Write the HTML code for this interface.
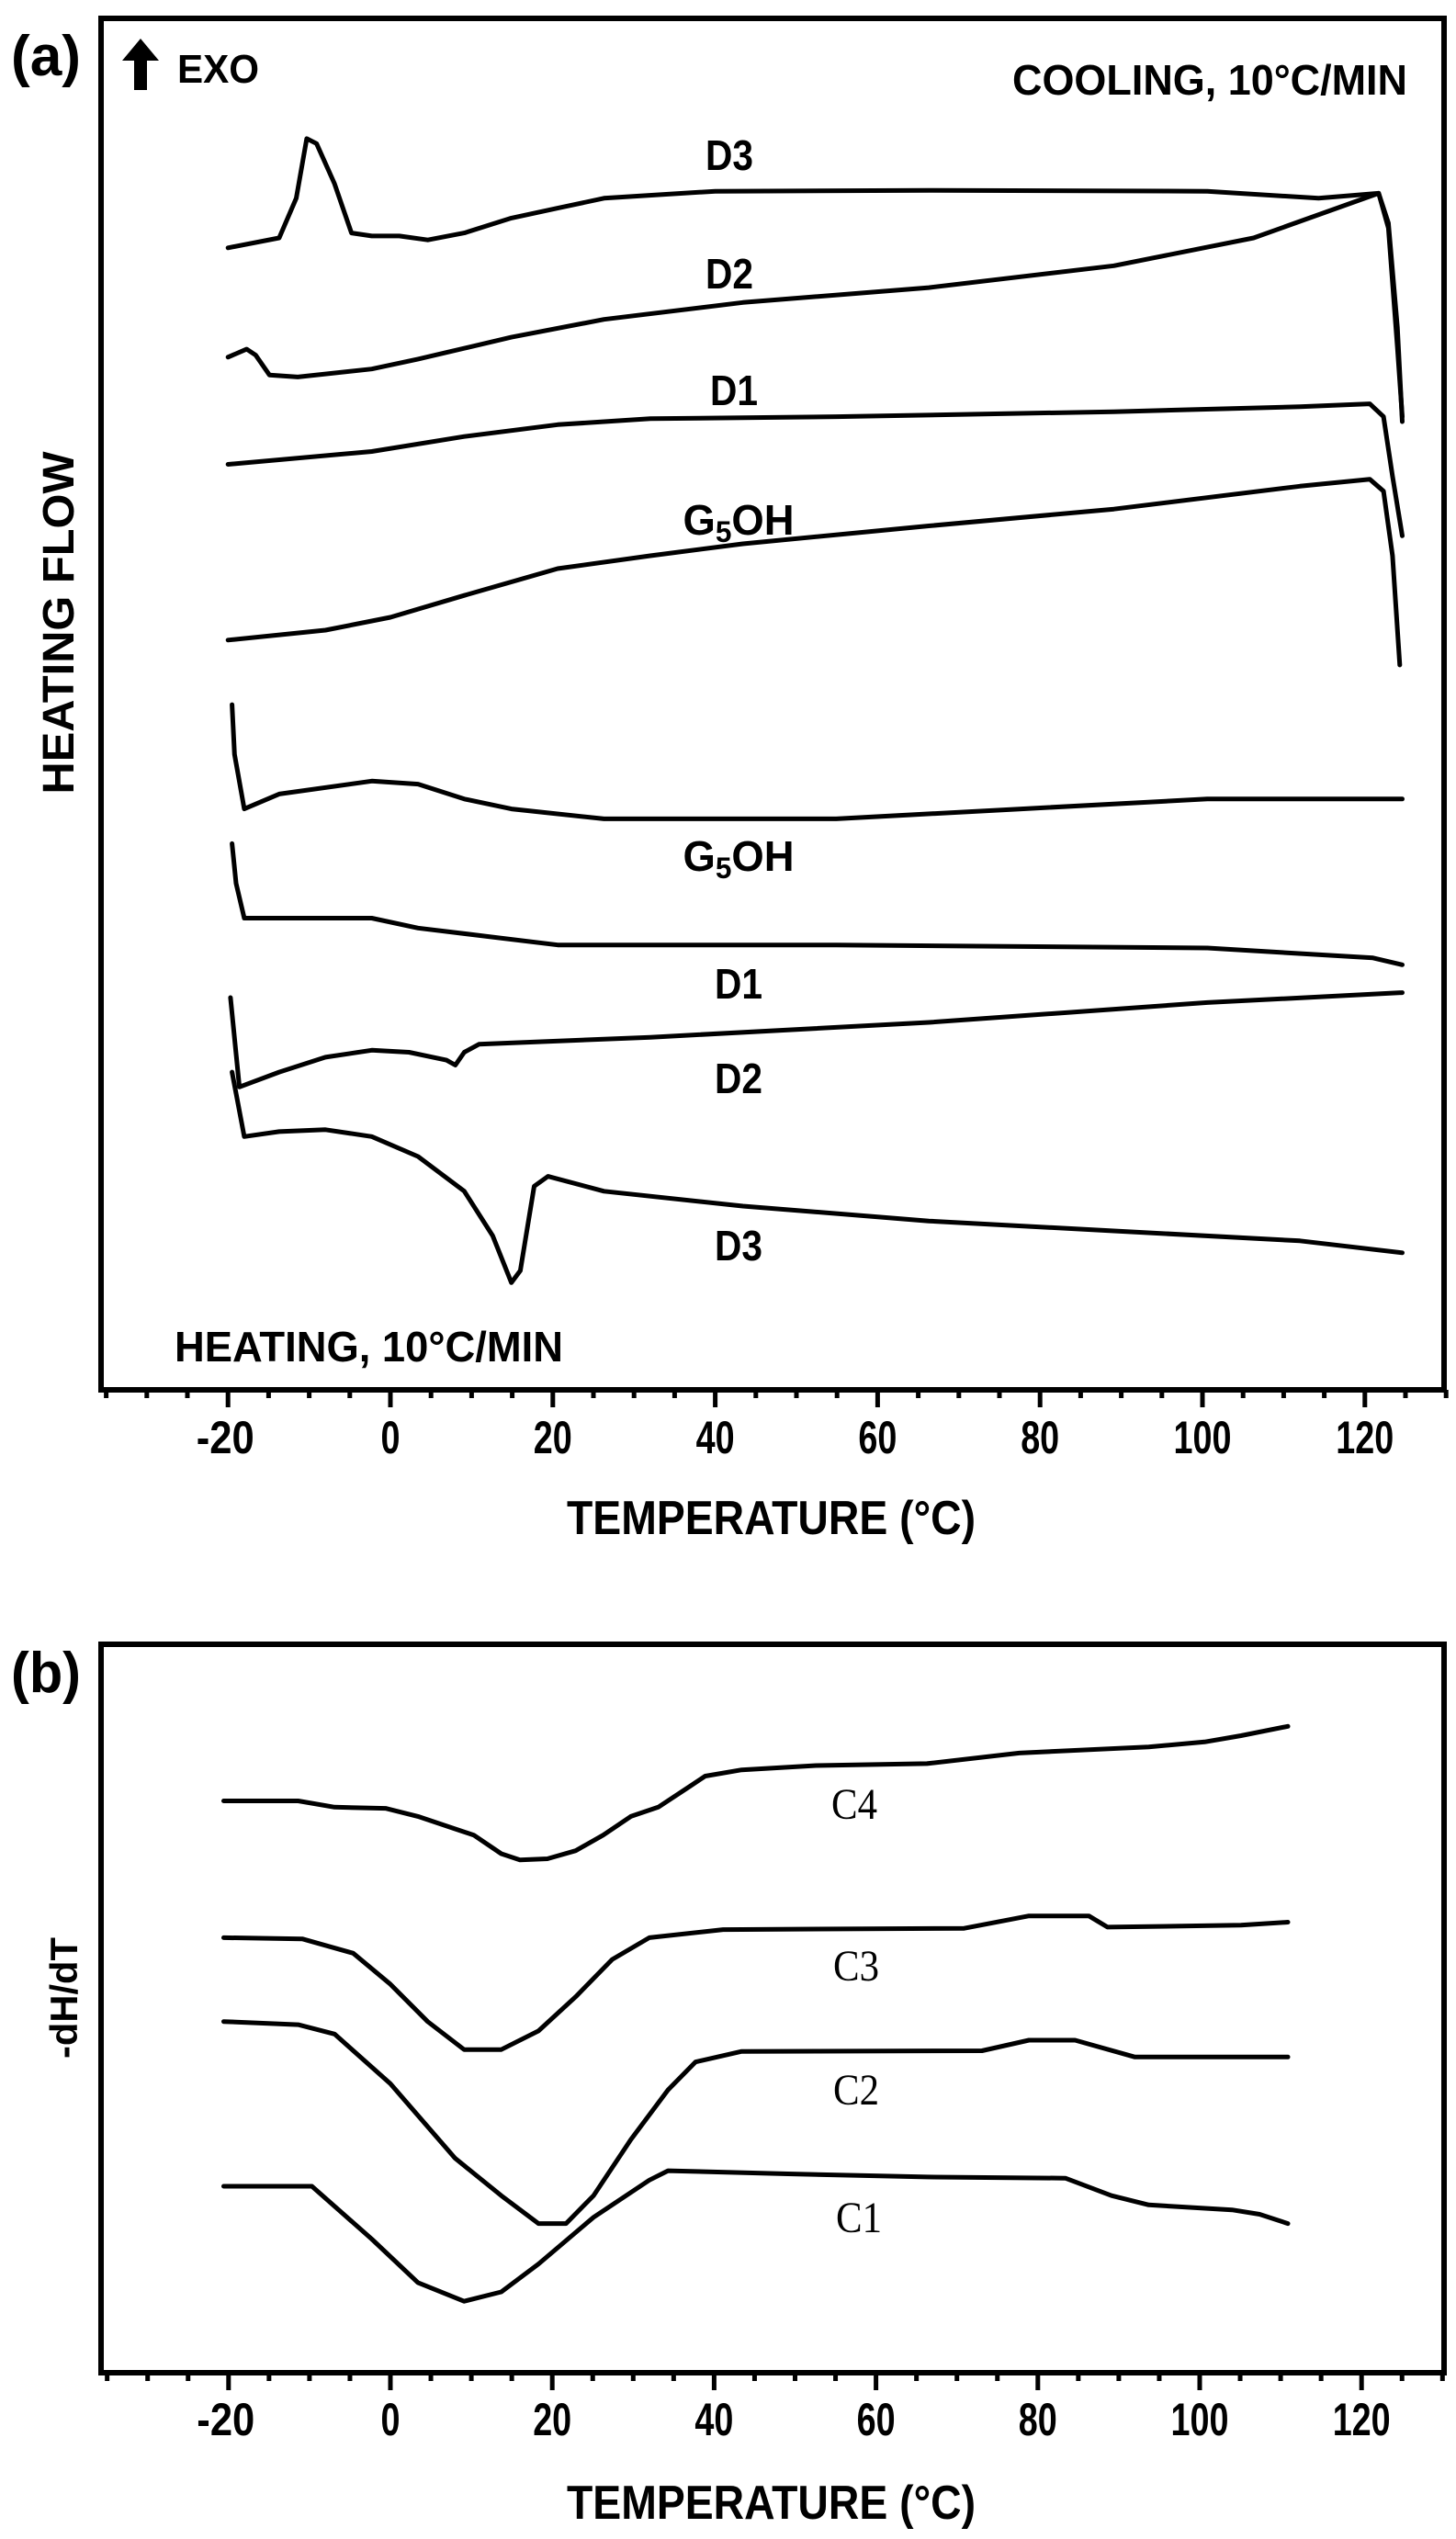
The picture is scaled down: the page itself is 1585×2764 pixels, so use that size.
<!DOCTYPE html>
<html><head><meta charset="utf-8"><style>
html,body{margin:0;padding:0;background:#fff}
svg{display:block}
text{font-family:"Liberation Sans",sans-serif;font-weight:bold;fill:#000}
.serif{font-family:"Liberation Serif",serif;font-weight:normal}
</style></head><body>
<svg id="fig" width="1585" height="2764" viewBox="0 0 1585 2764">
<rect width="1585" height="2764" fill="#fff"/>
<g id="pa"></g>
<g id="pb"></g>
</svg>
<script>
// ---- Panel (a) data: temperature (°C) and heat flow (arb. units) ----
const coolD3T = [-20,-13.7,-11.6,-10.3,-9.1,-6.9,-4.8,-2.3,1.1,4.6,9.1,14.9,20.6,26.3,40,66.3,100.6,114.3,121.7,122.9,124,124.6];
const coolD3V = [115,116,120,126,125.5,121.5,116.5,116.2,116.2,115.8,116.5,118,119,120,120.7,120.8,120.7,120,120.5,117,105,98];
const coolD2T = [-20,-17.7,-16.6,-14.9,-11.4,-2.3,3.4,14.9,26.3,43.4,66.3,89.1,106.3,121.7,122.9,124,124.6];
const coolD2V = [104,104.8,104.2,102.2,102,102.8,103.8,106,107.8,109.5,111,113.2,116,120.5,117.5,107,97.5];
const coolD1T = [-20,-2.3,9.1,20.6,32,54.9,89.1,112,120.6,122.3,123.4,124.6];
const coolD1V = [93.2,94.5,96,97.2,97.8,98,98.5,99,99.3,98,92,86];
const coolGT = [-20,-8,0,9.1,20.6,32,43.4,66.3,89.1,112,120.6,122.3,123.4,124.3];
const coolGV = [75.5,76.5,77.8,80,82.7,84,85.2,87,88.7,91,91.7,90.5,84,73];
const heatGT = [-19.5,-19.2,-18,-13.7,-2.3,3.4,9.1,14.9,26.3,54.9,77.7,100.6,124.6];
const heatGV = [69,64,58.5,60,61.3,61,59.5,58.5,57.5,57.5,58.5,59.5,59.5];
const heatD1T = [-19.5,-19,-18,-2.3,3.4,20.6,54.9,100.6,121,124.6];
const heatD1V = [55,51,47.5,47.5,46.5,44.8,44.8,44.5,43.5,42.8];
const heatD2T = [-19.7,-18.6,-13.7,-8,-2.3,2.3,6.9,8,9.1,10.9,32,66.3,100.6,124.6];
const heatD2V = [39.5,30.5,32,33.5,34.2,34,33.2,32.7,34,34.8,35.5,37,39,40];
const heatD3T = [-19.5,-18,-13.7,-8,-2.3,3.4,9.1,12.6,14.9,16,17.7,19.4,26.3,43.4,66.3,89.1,112,124.6];
const heatD3V = [32,25.5,26,26.2,25.5,23.5,20,15.5,10.8,12,20.5,21.5,20,18.5,17,16,15,13.8];
const xTicksA = [-20,0,20,40,60,80,100,120];
// ---- Panel (b) data ----
const c4T = [-20.6,-11.4,-6.9,-0.6,3.4,8,10.3,13.7,16,19.4,22.9,26.3,29.7,33.1,36.6,38.9,43.4,52.6,66.3,77.7,93.7,100.6,105.1,110.9];
const c4V = [92,92,91,90.8,89.5,87.5,86.5,83.5,82.5,82.7,84,86.5,89.5,91,94,96,97,97.7,98,99.7,100.7,101.5,102.5,104];
const c3T = [-20.6,-10.9,-4.6,0,4.6,9.1,13.7,18.3,22.9,27.4,32,41.1,70.9,78.9,86.3,88.6,105.1,110.9];
const c3V = [70,69.8,67.5,62.5,56.5,52,52,55,60.5,66.5,70,71.3,71.5,73.5,73.5,71.7,72,72.5];
const c2T = [-20.6,-11.4,-6.9,0,8,13.7,18.3,21.7,25.1,29.7,34.3,37.7,43.4,73.1,78.9,84.6,92,110.9];
const c2V = [56.5,56,54.5,46.5,34.5,28.5,24,24,28.5,37.5,45.5,50,51.7,51.8,53.5,53.5,50.8,50.8];
const c1T = [-20.6,-9.7,-2.3,3.4,9.1,13.7,18.3,25.1,32,34.3,49.1,66.3,83.4,89.1,93.7,104,107.4,110.9];
const c1V = [30,30,21.5,14.5,11.5,13,17.5,25,31,32.5,32,31.5,31.3,28.5,27,26.2,25.5,24];
const xTicksB = [-20,0,20,40,60,80,100,120];

const NS = "http://www.w3.org/2000/svg";
function mk(parent, tag, attrs, txt){
  const e = document.createElementNS(NS, tag);
  for (const k in attrs) e.setAttribute(k, attrs[k]);
  if (txt !== undefined) e.textContent = txt;
  parent.appendChild(e); return e;
}
const xA = t => 425 + t * 8.84;
const yA = v => 1513 - v * 10.81;
const xB = t => 425 + t * 8.81;
const yB = v => 2583 - v * 6.766;

function curve(g, T, V, xf, yf, name){
  let d = "";
  for (let i = 0; i < T.length; i++) d += (i ? "L" : "M") + xf(T[i]).toFixed(1) + "," + yf(V[i]).toFixed(1);
  const p = mk(g, "path", {d: d, fill: "none", stroke: "#000", "stroke-width": 5, "stroke-linejoin": "round", "stroke-linecap": "round"});
  
  
}
function frame(g, top, bottom, xf, ticks, labelY, titleY, name){
  const r = mk(g, "rect", {x: 110, y: top, width: 1462, height: bottom - top, fill: "none", stroke: "#000", "stroke-width": 6});
  
  
  for (let t = -35; t <= 130; t += 5){
    const major = (t % 20 === 0);
    const tk = mk(g, "line", {x1: xf(t), x2: xf(t), y1: bottom, y2: bottom + (major ? 19 : 9), stroke: "#000", "stroke-width": 5});
    
    
  }
  ticks.forEach(t => {
    const s = String(t);
    const tl = mk(g, "text", {x: xf(t) - (t < 0 ? 3 : 0), y: labelY, "font-size": 50, "text-anchor": "middle", textLength: s.length * 21, lengthAdjust: "spacingAndGlyphs"}, s);
    
    
  });
  const ti = mk(g, "text", {x: 617, y: titleY, "font-size": 52, textLength: 445, lengthAdjust: "spacingAndGlyphs"}, "TEMPERATURE (°C)");
  
  
}
function label(g, x, y, s, w, name, serif){
  const t = mk(g, "text", {x: x, y: y, "font-size": serif ? 48 : 46, "text-anchor": "middle", textLength: w, lengthAdjust: "spacingAndGlyphs"}, s);
  if (serif) t.setAttribute("class", "serif");
  
  
  return t;
}

const ga = document.getElementById("pa");
frame(ga, 20, 1513, xA, xTicksA, 1582, 1670, "panel-a");
curve(ga, coolD3T, coolD3V, xA, yA, "cooling-d3-line");
curve(ga, coolD2T, coolD2V, xA, yA, "cooling-d2-line");
curve(ga, coolD1T, coolD1V, xA, yA, "cooling-d1-line");
curve(ga, coolGT, coolGV, xA, yA, "cooling-g5oh-line");
curve(ga, heatGT, heatGV, xA, yA, "heating-g5oh-line");
curve(ga, heatD1T, heatD1V, xA, yA, "heating-d1-line");
curve(ga, heatD2T, heatD2V, xA, yA, "heating-d2-line");
curve(ga, heatD3T, heatD3V, xA, yA, "heating-d3-line");
label(ga, 794, 185, "D3", 52, "label-cooling-d3");
label(ga, 794, 314, "D2", 52, "label-cooling-d2");
label(ga, 799, 441, "D1", 52, "label-cooling-d1");
</script>
<script>
(function(){
  const ga = document.getElementById("pa");
  function g5(x, y, name){
    const t = mk(ga, "text", {x: x, y: y, "font-size": 46, "text-anchor": "middle"});
    
    
    mk(t, "tspan", {}, "G");
    mk(t, "tspan", {"font-size": 32, dy: 8}, "5");
    mk(t, "tspan", {dy: -8}, "OH");
    t.setAttribute("textLength", 121);
    t.setAttribute("lengthAdjust", "spacingAndGlyphs");
  }
  g5(804, 582, "label-cooling-g5oh");
  g5(804, 948, "label-heating-g5oh");
  label(ga, 804, 1087, "D1", 52, "label-heating-d1");
  label(ga, 804, 1190, "D2", 52, "label-heating-d2");
  label(ga, 804, 1372, "D3", 52, "label-heating-d3");
  const arrow = mk(ga, "path", {d: "M153,42 L173,66 L160,66 L160,98 L146,98 L146,66 L133,66 Z", fill: "#000"});
  
  
  const exo = mk(ga, "text", {x: 193, y: 90, "font-size": 44, "font-weight": "normal", textLength: 89, lengthAdjust: "spacingAndGlyphs"}, "EXO");
  
  
  const cool = mk(ga, "text", {x: 1532, y: 103, "font-size": 46, "text-anchor": "end", textLength: 430, lengthAdjust: "spacingAndGlyphs"}, "COOLING, 10°C/MIN");
  
  
  const heat = mk(ga, "text", {x: 190, y: 1482, "font-size": 46, textLength: 423, lengthAdjust: "spacingAndGlyphs"}, "HEATING, 10°C/MIN");
  
  
  const yt = mk(ga, "text", {x: 0, y: 0, "font-size": 48, "text-anchor": "middle", textLength: 373, lengthAdjust: "spacingAndGlyphs", transform: "translate(80,678) rotate(-90)"}, "HEATING  FLOW");
  
  
  const la = mk(ga, "text", {x: 12, y: 82, "font-size": 62, textLength: 76, lengthAdjust: "spacingAndGlyphs"}, "(a)");
  
  

  const gb = document.getElementById("pb");
  frame(gb, 1790, 2583, xB, xTicksB, 2651, 2742, "panel-b");
  curve(gb, c4T, c4V, xB, yB, "c4-line");
  curve(gb, c3T, c3V, xB, yB, "c3-line");
  curve(gb, c2T, c2V, xB, yB, "c2-line");
  curve(gb, c1T, c1V, xB, yB, "c1-line");
  label(gb, 930, 1980, "C4", 50, "label-c4", true);
  label(gb, 932, 2156, "C3", 50, "label-c3", true);
  label(gb, 932, 2291, "C2", 50, "label-c2", true);
  label(gb, 935, 2430, "C1", 50, "label-c1", true);
  const yb = mk(gb, "text", {x: 0, y: 0, "font-size": 42, "font-weight": "normal", "text-anchor": "middle", textLength: 132, lengthAdjust: "spacingAndGlyphs", transform: "translate(84,2175) rotate(-90)"}, "-dH/dT");
  
  
  const lb = mk(gb, "text", {x: 12, y: 1842, "font-size": 62, textLength: 76, lengthAdjust: "spacingAndGlyphs"}, "(b)");
  
  
})();
</script>
</body></html>
